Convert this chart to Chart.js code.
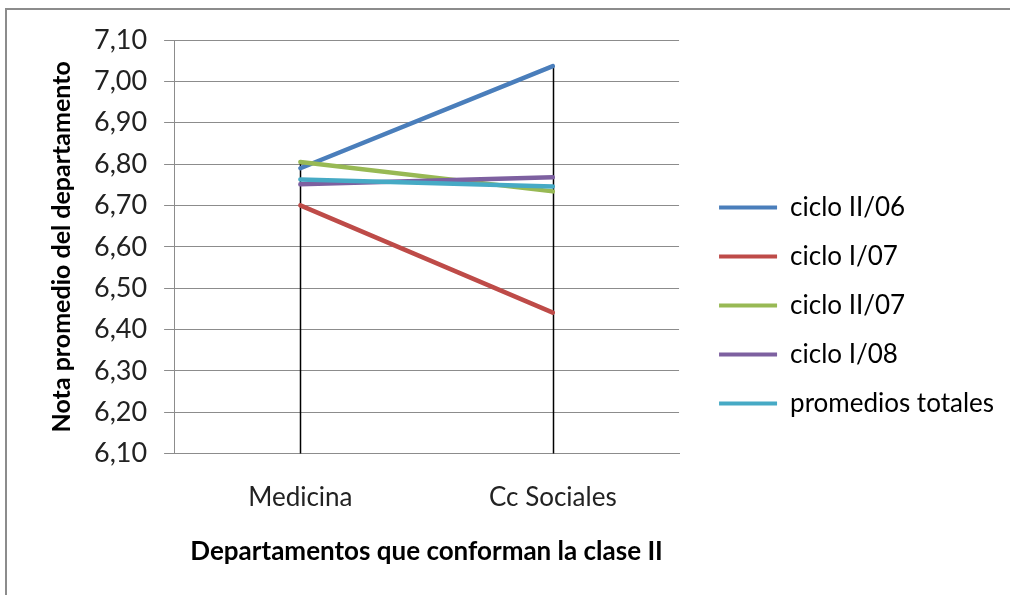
<!DOCTYPE html>
<html>
<head>
<meta charset="utf-8">
<script src="https://cdn.jsdelivr.net/npm/chart.js@4.4.0/dist/chart.umd.min.js"></script>
<style>
  body { margin: 0; background: #fff; }
  #frame { position: absolute; left: 5px; top: 8px; width: 1100px; height: 700px; border-left: 2px solid #8c8c8c; border-top: 2px solid #8c8c8c; }
  #myChart { position: absolute; left: 0; top: 0; }
</style>
</head>
<body>
<div id="frame"></div>
<canvas id="myChart" width="1010" height="595"></canvas>
<script>
var departamentos = ['Medicina', 'Cc Sociales'];
var cicloII06 = [6.79, 7.037];
var cicloI07 = [6.70, 6.441];
var cicloII07 = [6.805, 6.734];
var cicloI08 = [6.751, 6.768];
var promedios = [6.763, 6.746];

// lineas verticales desde el punto mas alto hasta el eje
var dropLines = {
    id: 'dropLines',
    beforeDatasetsDraw: function (chart) {
        var ctx = chart.ctx;
        var x = chart.scales.x;
        var y = chart.scales.y;
        ctx.save();
        ctx.strokeStyle = '#000';
        ctx.lineWidth = 1.5;
        departamentos.forEach(function (d, i) {
            var max = Math.max.apply(null, chart.data.datasets.map(function (ds) { return ds.data[i]; }));
            var px = Math.round(x.getPixelForValue(i)) + 0.5;
            ctx.beginPath();
            ctx.moveTo(px, y.getPixelForValue(max));
            ctx.lineTo(px, y.bottom);
            ctx.stroke();
        });
        ctx.restore();
    }
};

// mas espacio entre el grafico y la leyenda
var legendGap = {
    id: 'legendGap',
    beforeLayout: function (chart) {
        var lg = chart.legend;
        if (lg && !lg._gapDone) {
            var fit = lg.fit;
            lg.fit = function () {
                fit.call(this);
                this.width += 23;
            };
            lg._gapDone = true;
        }
    },
    afterLayout: function (chart) {
        chart.legend.left += 17;
    }
};

var font = "Lato, 'Open Sans', sans-serif";

var myChart = new Chart(document.getElementById('myChart'), {
    type: 'line',
    data: {
        labels: departamentos,
        datasets: [{
            label: 'ciclo II/06',
            borderColor: '#4a7ebb',
            backgroundColor: '#4a7ebb',
            data: cicloII06,
            order: 5
        }, {
            label: 'ciclo I/07',
            borderColor: '#be4b48',
            backgroundColor: '#be4b48',
            data: cicloI07,
            order: 4
        }, {
            label: 'ciclo II/07',
            borderColor: '#98b954',
            backgroundColor: '#98b954',
            data: cicloII07,
            order: 3
        }, {
            label: 'ciclo I/08',
            borderColor: '#7d60a0',
            backgroundColor: '#7d60a0',
            data: cicloI08,
            order: 2
        }, {
            label: 'promedios totales',
            borderColor: '#46aac5',
            backgroundColor: '#46aac5',
            data: promedios,
            order: 1
        }]
    },
    options: {
        responsive: false,
        animation: false,
        devicePixelRatio: 1,
        elements: {
            line: { borderWidth: 4.5, borderCapStyle: 'round', tension: 0 },
            point: { radius: 0, hoverRadius: 0 }
        },
        layout: {
            padding: { left: 43, top: 40, right: 0, bottom: 24 }
        },
        scales: {
            x: {
                offset: true,
                grid: { display: false, drawTicks: false },
                border: { display: true, color: '#8c8c8c' },
                ticks: { color: '#222', padding: 28, font: { family: font, size: 26 } },
                title: {
                    display: true,
                    text: 'Departamentos que conforman la clase II',
                    color: '#000',
                    font: { family: font, size: 26, weight: 'bold' },
                    padding: { top: -5 }
                }
            },
            y: {
                min: 6.1,
                max: 7.1,
                grid: { color: '#8c8c8c', tickLength: 10 },
                border: { color: '#8c8c8c' },
                ticks: {
                    stepSize: 0.1,
                    color: '#222',
                    padding: 17,
                    font: { family: font, size: 27 },
                    callback: function (v) { return v.toFixed(2).replace('.', ','); }
                },
                title: {
                    display: true,
                    text: 'Nota promedio del departamento',
                    color: '#000',
                    font: { family: font, size: 25, weight: 'bold' },
                    padding: { bottom: 0 }
                }
            }
        },
        plugins: {
            legend: {
                display: true,
                position: 'right',
                maxWidth: 400,
                labels: {
                    boxWidth: 58,
                    boxHeight: 4,
                    padding: 23,
                    color: '#222',
                    font: { family: font, size: 26 },
                    generateLabels: function (chart) {
                        return chart.data.datasets.map(function (ds, i) {
                            return {
                                text: ds.label,
                                fillStyle: ds.borderColor,
                                strokeStyle: ds.borderColor,
                                lineWidth: 0,
                                datasetIndex: i
                            };
                        });
                    }
                }
            },
            tooltip: { enabled: false }
        }
    },
    plugins: [dropLines, legendGap]
});
</script>
</body>
</html>
